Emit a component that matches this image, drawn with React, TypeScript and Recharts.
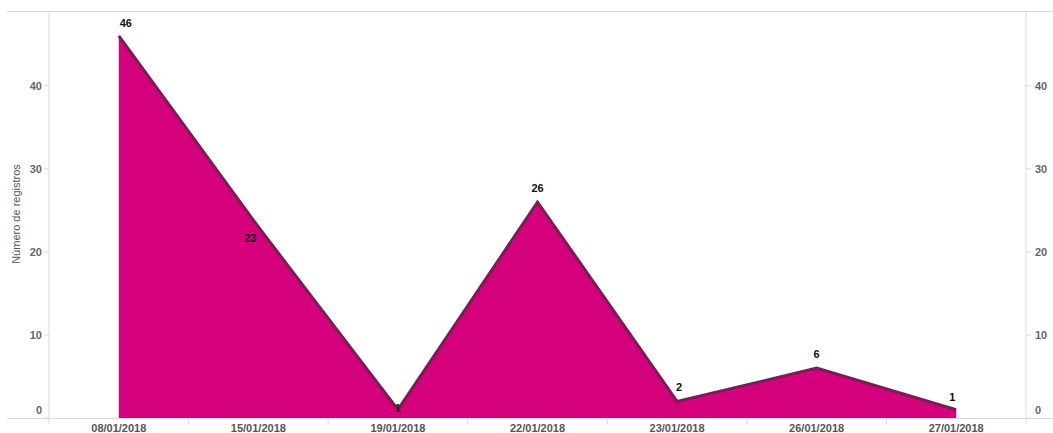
import { Area, AreaChart, LabelList, XAxis, YAxis } from "recharts";

const fechas = ["08/01/2018", "15/01/2018", "19/01/2018", "22/01/2018", "23/01/2018", "26/01/2018", "27/01/2018"];
const registros = [46, 23, 1, 26, 2, 6, 1];
const yTicks = [0, 10, 20, 30, 40];

const data = fechas.map((fecha, i) => ({ fecha, registros: registros[i] }));

const W = 1053;
const H = 433;
const HALF_BAND = 69.8;
const FONT = "'Liberation Sans', Arial, sans-serif";

// per-point nudges so labels sit where the original puts them
const labelNudge: Record<number, [number, number]> = {
  0: [7, -12],
  1: [-8, 12],
  2: [0, -1],
  3: [0, -13],
  4: [2, -13],
  5: [0, -13],
  6: [-4, -12],
};

function PointLabel(props: any) {
  const { x, y, value, index } = props;
  const [dx, dy] = labelNudge[index] ?? [0, -12];
  return (
    <text x={x + dx} y={y + dy} textAnchor="middle" dominantBaseline="middle"
      fontSize={11} fontWeight="bold" fill="#111" fontFamily={FONT}>
      {value}
    </text>
  );
}

function DateTick(props: any) {
  const { x, payload, index, visibleTicksCount } = props;
  const last = index === (visibleTicksCount ?? fechas.length) - 1;
  return (
    <g>
      <line x1={x - HALF_BAND} x2={x - HALF_BAND} y1={418} y2={424} stroke="#d9d9d9" />
      {last && <line x1={x + HALF_BAND} x2={x + HALF_BAND} y1={418} y2={424} stroke="#d9d9d9" />}
      <text x={x} y={432} textAnchor="middle" fontSize={11} fontWeight="bold" fill="#555" fontFamily={FONT}>
        {payload.value}
      </text>
    </g>
  );
}

function CountTick(props: any) {
  const { x, y, payload, textAnchor } = props;
  const shift = payload.value === 0 ? -8 : 0;
  return (
    <text x={x} y={y + shift} dy={4} textAnchor={textAnchor} fontSize={11} fontWeight="bold"
      fill="#666" fontFamily={FONT}>
      {payload.value}
    </text>
  );
}

export default function App() {
  return (
    <div style={{ position: "absolute", left: 0, top: 0, width: W, height: H, background: "#fff" }}>
      <AreaChart width={W} height={H} data={data} margin={{ top: 11, right: 0, bottom: 0, left: 0 }}>
        <XAxis
          dataKey="fecha"
          padding={{ left: HALF_BAND, right: HALF_BAND }}
          height={15}
          axisLine={false}
          tickLine={false}
          tick={<DateTick />}
          interval={0}
        />
        <YAxis
          yAxisId="left"
          orientation="left"
          width={49}
          domain={[0, 49]}
          ticks={yTicks}
          axisLine={{ stroke: "#d9d9d9" }}
          tickLine={{ stroke: "#d9d9d9" }}
          tickSize={5}
          tickMargin={2}
          tick={<CountTick />}
          label={{
            content: () => (
              <text transform="translate(20,214) rotate(-90)" textAnchor="middle" fontSize={11}
                fill="#555" fontFamily={FONT}>
                Número de registros
              </text>
            ),
          }}
        />
        <YAxis
          yAxisId="right"
          orientation="right"
          width={27}
          domain={[0, 49]}
          allowDataOverflow
          ticks={yTicks}
          axisLine={{ stroke: "#d9d9d9" }}
          tickLine={{ stroke: "#d9d9d9" }}
          tickSize={5}
          tickMargin={4}
          tick={<CountTick />}
        />
        {/* invisible twin so the right axis gets a domain and ticks */}
        <Area
          yAxisId="right"
          type="linear"
          dataKey="registros"
          fill="none"
          stroke="none"
          dot={false}
          activeDot={false}
          legendType="none"
          isAnimationActive={false}
        />
        <Area
          yAxisId="left"
          type="linear"
          dataKey="registros"
          fill="#d5007b"
          fillOpacity={1}
          stroke="#7a1d55"
          strokeWidth={3}
          dot={false}
          activeDot={false}
          isAnimationActive={false}
        >
          <LabelList dataKey="registros" content={<PointLabel />} />
        </Area>
      </AreaChart>
      <div style={{ position: "absolute", left: 7, top: 11, width: W - 7, height: 1, background: "#d9d9d9" }} />
      <div style={{ position: "absolute", left: 7, top: 418, width: W - 7, height: 1, background: "#d9d9d9" }} />
    </div>
  );
}
